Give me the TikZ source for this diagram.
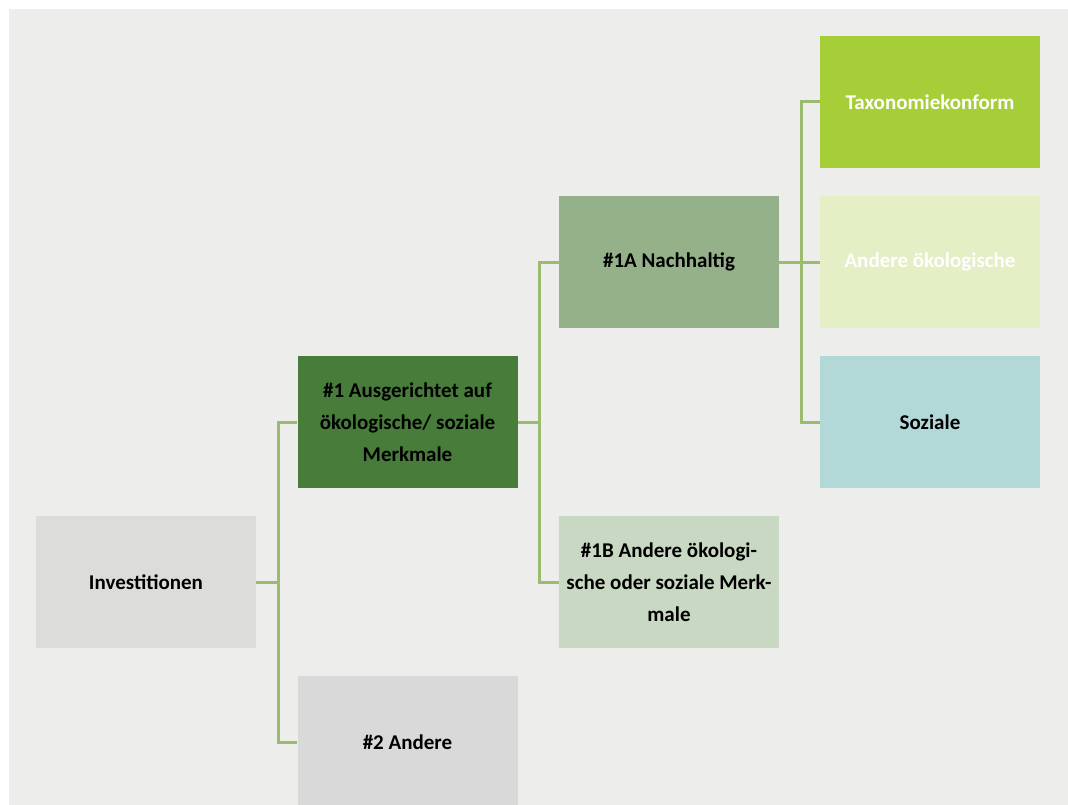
\documentclass[tikz,border=0pt]{standalone}
\usepackage{fontspec}
\setmainfont{Carlito}
\definecolor{bggray}{HTML}{EDEDEB}
\definecolor{invgray}{HTML}{DCDCDA}
\definecolor{othgray}{HTML}{D9D9D9}
\definecolor{darkgreen}{HTML}{487C3B}
\definecolor{midgreen}{HTML}{94B189}
\definecolor{palegreen}{HTML}{C8D8C2}
\definecolor{limegreen}{HTML}{A6CE39}
\definecolor{lightlime}{HTML}{E4EFC6}
\definecolor{paleteal}{HTML}{B2D8D8}
\definecolor{linkgreen}{HTML}{9BBB6E}

\begin{document}
\begin{tikzpicture}[x=1pt,y=-1pt,
	box/.style={minimum width=220pt,minimum height=132pt,inner sep=0pt,align=center,
		font=\fontsize{21}{32}\selectfont\bfseries},
	link/.style={draw=linkgreen,line width=3pt}]
	\useasboundingbox (0,0) rectangle (1068,805);
	\fill[white] (0,0) rectangle (1068,805);
	\fill[bggray] (9,9) rectangle (1068,805);
	\node[box,fill=invgray] (inv) at (146,582) {Investitionen};
	\node[box,fill=darkgreen] (aus) at (407.5,422) {\#1 Ausgerichtet auf\\ökologische/ soziale\\Merkmale};
	\node[box,fill=othgray] (oth) at (407.5,742) {\#2 Andere};
	\node[box,fill=midgreen] (nach) at (669,262) {\#1A Nachhaltig};
	\node[box,fill=palegreen] (merk) at (669,582) {\#1B Andere ökologi-\\sche oder soziale Merk-\\male};
	\node[box,fill=limegreen,text=white] (tax) at (930,102) {Taxonomiekonform};
	\node[box,fill=lightlime,text=white] (oek) at (930,262) {Andere ökologische};
	\node[box,fill=paleteal] (soz) at (930,422) {Soziale};
	\draw[link] (inv.east) -- ++(22,0) coordinate (j1);
	\draw[link] (j1) |- (aus.west);
	\draw[link] (j1) |- (oth.west);
	\draw[link] (aus.east) -- ++(22,0) coordinate (j2);
	\draw[link] (j2) |- (nach.west);
	\draw[link] (j2) |- (merk.west);
	\draw[link] (nach.east) -- ++(22,0) coordinate (j3);
	\draw[link] (j3) |- (tax.west);
	\draw[link] (j3) |- (oek.west);
	\draw[link] (j3) |- (soz.west);
\end{tikzpicture}
\end{document}
